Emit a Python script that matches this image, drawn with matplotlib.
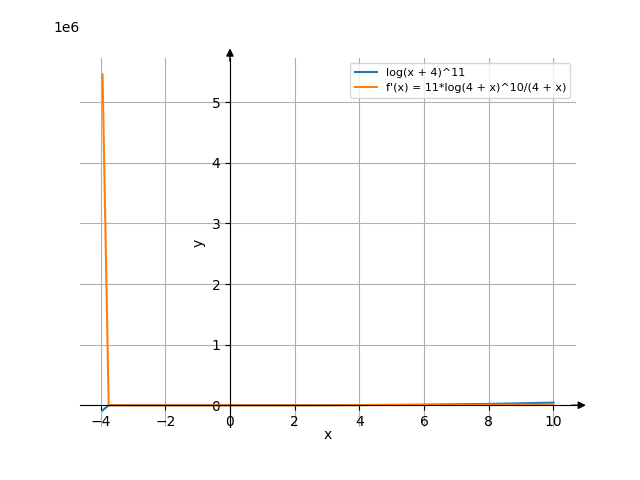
import matplotlib
matplotlib.use("Agg")
import matplotlib.pyplot as plt

# sample points
x = [-3.94, -3.75, -3.0, -2.0, 0.0, 2.0, 4.0, 6.0, 8.0, 10.0]
f_vals = [-85000, -40, 0, 2, 36, 611, 3140, 9640, 22300, 43000]
df_vals = [5460000, 1150, 0, 7, 72, 625, 2080, 4600, 8240, 12800]

fig, ax = plt.subplots(figsize=(6.4, 4.8), dpi=100)

ax.plot(x, f_vals, label='log(x + 4)^11')
ax.plot(x, df_vals, label="f'(x) = 11*log(4 + x)^10/(4 + x)")

# sympy-like centred axes
ax.spines['left'].set_position('zero')
ax.spines['bottom'].set_position('zero')
ax.spines['right'].set_color('none')
ax.spines['top'].set_color('none')
ax.xaxis.set_ticks_position('bottom')
ax.yaxis.set_ticks_position('left')

# small arrow heads at the ends of the axes
ax.annotate('', xy=(1.02, 0), xytext=(0.99, 0), xycoords=ax.get_yaxis_transform(),
            arrowprops=dict(arrowstyle='-|>', color='k', lw=1, mutation_scale=11,
                            shrinkA=0, shrinkB=0))
ax.annotate('', xy=(0, 1.025), xytext=(0, 0.99), xycoords=ax.get_xaxis_transform(),
            arrowprops=dict(arrowstyle='-|>', color='k', lw=1, mutation_scale=11,
                            shrinkA=0, shrinkB=0))

ax.set_xlabel('x', labelpad=-1)
ax.set_ylabel('y')
ax.grid(True)
ax.legend(loc='upper right', fontsize=8)

# offset text placed like the reference
fig.canvas.draw()
ax.yaxis.get_offset_text().set_visible(False)
ax.text(-0.028, 1.08, '1e6', transform=ax.transAxes, ha='center', va='center')

fig.savefig('out.png', dpi=100)
